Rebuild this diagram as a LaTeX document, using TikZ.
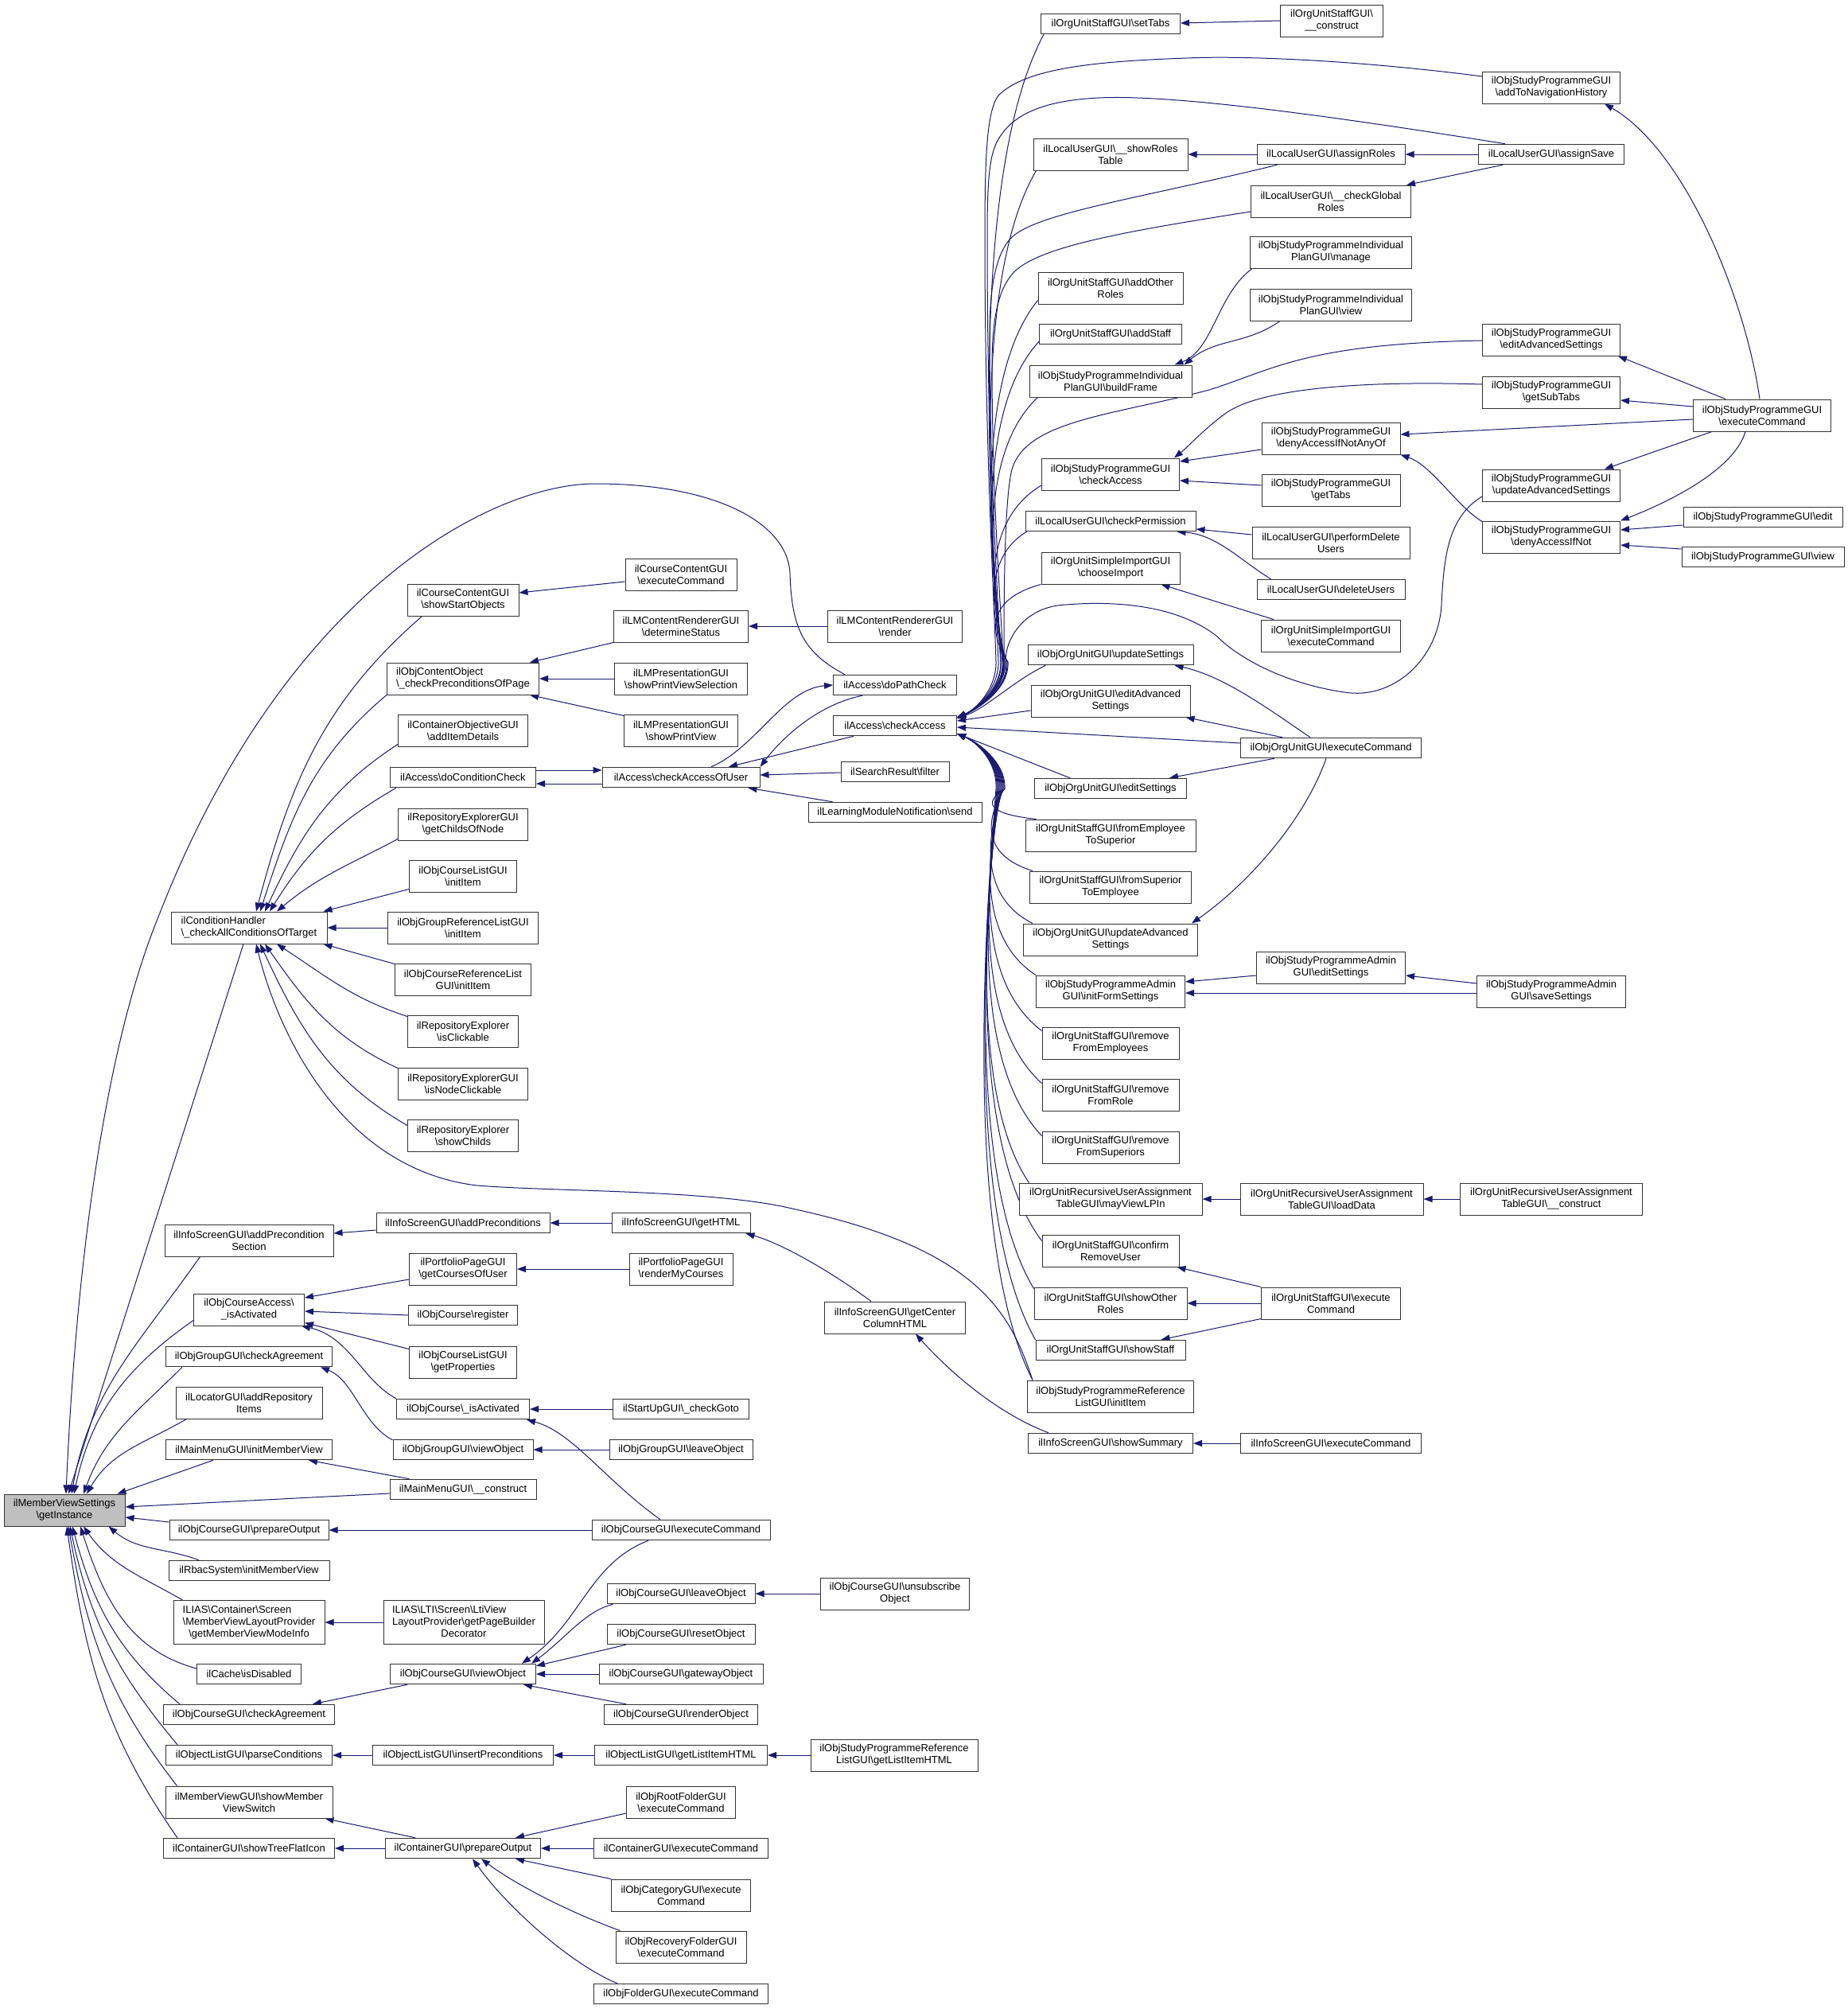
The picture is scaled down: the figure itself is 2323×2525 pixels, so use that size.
\documentclass[tikz,border=0pt]{standalone}
\usepackage{fontspec}
\setmainfont{Liberation Sans}
\usetikzlibrary{arrows.meta,calc}
\definecolor{mnb}{RGB}{25,25,112}
\newcommand\BS{\textbackslash}
\newcommand\mynode[6]{\node[#1,minimum width=#5pt] (#2) at (#3,#4) {#6};}
\pgfdeclarelayer{bg}
\pgfsetlayers{bg,main}
\newcommand\fanU[2]{\draw[edg] let \p1=(#1), \p2=([yshift=10pt]ca.east), \p3=($(\p2)+(#2pt,70pt)$) in (\p1) .. controls ({\x3-30pt},{\y1+0.2*((\y3)-(\y1))}) and ({\x3-22pt},{\y3-0.35*((\y3)-(\y1))}) .. (\p3) .. controls ({\x3+2pt},{\y3-35pt}) and ({\x2+24pt},{\y2+10pt}) .. (\p2);}
\newcommand\fanL[2]{\draw[edg] let \p1=(#1), \p2=([yshift=-10pt]ca.east), \p3=($(\p2)+(#2pt,-70pt)$) in (\p1) .. controls ({\x3-30pt},{\y1+0.2*((\y3)-(\y1))}) and ({\x3-22pt},{\y3-0.35*((\y3)-(\y1))}) .. (\p3) .. controls ({\x3+2pt},{\y3+35pt}) and ({\x2+24pt},{\y2-10pt}) .. (\p2);}
\begin{document}
\begin{tikzpicture}[x=1pt,y=-1pt,
 bx/.style={draw=black!80,line width=1pt,fill=white,align=center,inner xsep=2pt,inner ysep=1pt,font={\fontsize{13}{15}\selectfont}},
 h1/.style={bx,minimum height=25.5pt},
 h2/.style={bx,minimum height=40pt},
 h3/.style={bx,minimum height=55pt},
 edg/.style={draw=mnb,line width=1pt,-{Triangle[length=11pt,width=8pt]}}]
\useasboundingbox (0,0) rectangle (2323,2525);
% ---------- nodes
\mynode{h2,fill=gray!50}{gi}{81}{1898}{152}{ilMemberViewSettings\\\BS getInstance}
\mynode{h2,align=left}{ch}{313}{1166}{196}{ilConditionHandler\\\BS\_checkAllConditionsOfTarget}
\mynode{h2}{apS}{313}{1559}{212}{ilInfoScreenGUI\BS addPrecondition\\Section}
\mynode{h2}{oca}{313}{1646}{139}{ilObjCourseAccess\BS\\\_isActivated}
\mynode{h1}{ggca}{313}{1705}{209}{ilObjGroupGUI\BS checkAgreement}
\mynode{h2}{loc}{313}{1763}{184}{ilLocatorGUI\BS addRepository\\Items}
\mynode{h1}{mmi}{313}{1822}{209}{ilMainMenuGUI\BS initMemberView}
\mynode{h1}{cpo}{313}{1923}{200}{ilObjCourseGUI\BS prepareOutput}
\mynode{h1}{rbac}{313}{1974}{202}{ilRbacSystem\BS initMemberView}
\mynode{h3}{mvl}{313}{2039}{190}{\begin{tabular}{@{}l@{}}ILIAS\BS Container\BS Screen\\\multicolumn{1}{@{}c@{}}{\BS MemberViewLayoutProvider}\\\multicolumn{1}{@{}c@{}}{\BS getMemberViewModeInfo}\end{tabular}}
\mynode{h1}{cache}{313}{2104}{131}{ilCache\BS isDisabled}
\mynode{h1}{cca}{313}{2155}{215}{ilObjCourseGUI\BS checkAgreement}
\mynode{h1}{pc}{313}{2206}{209}{ilObjectListGUI\BS parseConditions}
\mynode{h2}{mvs}{313}{2265}{210}{ilMemberViewGUI\BS showMember\\ViewSwitch}
\mynode{h1}{stf}{313}{2323}{215}{ilContainerGUI\BS showTreeFlatIcon}
% column C
\mynode{h2}{sso}{582}{754}{140}{ilCourseContentGUI\\\BS showStartObjects}
\mynode{h2,align=left}{cpp}{582}{853}{191}{ilObjContentObject\\\BS\_checkPreconditionsOfPage}
\mynode{h2}{aid}{582}{918}{163}{ilContainerObjectiveGUI\\\BS addItemDetails}
\mynode{h1}{dcc}{582}{977}{183}{ilAccess\BS doConditionCheck}
\mynode{h2}{gcn}{582}{1036}{163}{ilRepositoryExplorerGUI\\\BS getChildsOfNode}
\mynode{h2}{cli}{582}{1101}{135}{ilObjCourseListGUI\\\BS initItem}
\mynode{h2}{grli}{582}{1166}{189}{ilObjGroupReferenceListGUI\\\BS initItem}
\mynode{h2}{crli}{582}{1231}{171}{ilObjCourseReferenceList\\GUI\BS initItem}
\mynode{h2}{isc}{582}{1296}{139}{ilRepositoryExplorer\\\BS isClickable}
\mynode{h2}{inc}{582}{1362}{163}{ilRepositoryExplorerGUI\\\BS isNodeClickable}
\mynode{h2}{sch}{582}{1427}{139}{ilRepositoryExplorer\\\BS showChilds}
\mynode{h1}{apr}{582}{1537}{218}{ilInfoScreenGUI\BS addPreconditions}
\mynode{h2}{gcu}{582}{1595}{135}{ilPortfolioPageGUI\\\BS getCoursesOfUser}
\mynode{h1}{reg}{582}{1653}{137}{ilObjCourse\BS register}
\mynode{h2}{gpr}{582}{1712}{135}{ilObjCourseListGUI\\\BS getProperties}
\mynode{h1}{ocia}{582}{1771}{167}{ilObjCourse\BS\_isActivated}
\mynode{h1}{gvo}{582}{1822}{176}{ilObjGroupGUI\BS viewObject}
\mynode{h1}{mmc}{582}{1872}{184}{ilMainMenuGUI\BS\_\_construct}
\mynode{h3}{lti}{583}{2039}{202}{\begin{tabular}{@{}l@{}}ILIAS\BS LTI\BS Screen\BS LtiView\\LayoutProvider\BS getPageBuilder\\\multicolumn{1}{@{}c@{}}{Decorator}\end{tabular}}
\mynode{h1}{cvo}{582}{2104}{183}{ilObjCourseGUI\BS viewObject}
\mynode{h1}{ipc}{582}{2206}{227}{ilObjectListGUI\BS insertPreconditions}
\mynode{h1}{cpo2}{582}{2323}{195}{ilContainerGUI\BS prepareOutput}
% column D
\mynode{h2}{cce}{856}{722}{140}{ilCourseContentGUI\\\BS executeCommand}
\mynode{h2}{lds}{856}{787}{169}{ilLMContentRendererGUI\\\BS determineStatus}
\mynode{h2}{pvs}{856}{853}{167}{ilLMPresentationGUI\\\BS showPrintViewSelection}
\mynode{h2}{spv}{856}{918}{143}{ilLMPresentationGUI\\\BS showPrintView}
\mynode{h1}{cau}{856}{977}{198}{ilAccess\BS checkAccessOfUser}
\mynode{h1}{ghtml}{856}{1537}{174}{ilInfoScreenGUI\BS getHTML}
\mynode{h2}{rmc}{856}{1595}{130}{ilPortfolioPageGUI\\\BS renderMyCourses}
\mynode{h1}{sug}{856}{1771}{171}{ilStartUpGUI\BS\_checkGoto}
\mynode{h1}{glo}{856}{1822}{180}{ilObjGroupGUI\BS leaveObject}
\mynode{h1}{oce}{856}{1923}{224}{ilObjCourseGUI\BS executeCommand}
\mynode{h1}{clo}{856}{2003}{186}{ilObjCourseGUI\BS leaveObject}
\mynode{h1}{cro}{856}{2054}{186}{ilObjCourseGUI\BS resetObject}
\mynode{h1}{cgo}{856}{2104}{206}{ilObjCourseGUI\BS gatewayObject}
\mynode{h1}{cre}{856}{2155}{193}{ilObjCourseGUI\BS renderObject}
\mynode{h1}{glih}{856}{2206}{217}{ilObjectListGUI\BS getListItemHTML}
\mynode{h2}{rfe}{856}{2265}{137}{ilObjRootFolderGUI\\\BS executeCommand}
\mynode{h1}{cge}{856}{2323}{219}{ilContainerGUI\BS executeCommand}
\mynode{h2}{cate}{856}{2382}{175}{ilObjCategoryGUI\BS execute\\Command}
\mynode{h2}{rcf}{856}{2447}{164}{ilObjRecoveryFolderGUI\\\BS executeCommand}
\mynode{h1}{fge}{856}{2506}{219}{ilObjFolderGUI\BS executeCommand}
% column E
\mynode{h2}{lrr}{1125}{787}{169}{ilLMContentRendererGUI\\\BS render}
\mynode{h1}{dpc}{1125}{861}{155}{ilAccess\BS doPathCheck}
\mynode{h1}{ca}{1125}{912}{155}{ilAccess\BS checkAccess}
\mynode{h1}{srf}{1125}{970}{136}{ilSearchResult\BS filter}
\mynode{h1}{lmn}{1125}{1021}{218}{ilLearningModuleNotification\BS send}
\mynode{h2}{gcc}{1125}{1656}{177}{ilInfoScreenGUI\BS getCenter\\ColumnHTML}
\mynode{h2}{cuo}{1125}{2003}{187}{ilObjCourseGUI\BS unsubscribe\\Object}
\mynode{h2}{sgl}{1124}{2206}{210}{ilObjStudyProgrammeReference\\ListGUI\BS getListItemHTML}
% column F
\mynode{h1}{st}{1396}{30}{175}{ilOrgUnitStaffGUI\BS setTabs}
\mynode{h2}{srt}{1396}{194}{194}{ilLocalUserGUI\BS\_\_showRoles\\Table}
\mynode{h2}{aor}{1396}{362}{182}{ilOrgUnitStaffGUI\BS addOther\\Roles}
\mynode{h1}{ast}{1396}{420}{179}{ilOrgUnitStaffGUI\BS addStaff}
\mynode{h2}{bf}{1396}{479}{204}{ilObjStudyProgrammeIndividual\\PlanGUI\BS buildFrame}
\mynode{h2}{spca}{1396}{596}{173}{ilObjStudyProgrammeGUI\\\BS checkAccess}
\mynode{h1}{cp}{1396}{655}{214}{ilLocalUserGUI\BS checkPermission}
\mynode{h2}{ci}{1396}{714}{174}{ilOrgUnitSimpleImportGUI\\\BS chooseImport}
\mynode{h1}{ous}{1396}{823}{208}{ilObjOrgUnitGUI\BS updateSettings}
\mynode{h2}{oue}{1396}{881}{200}{ilObjOrgUnitGUI\BS editAdvanced\\Settings}
\mynode{h1}{oues}{1396}{991}{191}{ilObjOrgUnitGUI\BS editSettings}
\mynode{h2}{fets}{1396}{1050}{214}{ilOrgUnitStaffGUI\BS fromEmployee\\ToSuperior}
\mynode{h2}{fste}{1396}{1115}{203}{ilOrgUnitStaffGUI\BS fromSuperior\\ToEmployee}
\mynode{h2}{ouua}{1396}{1181}{219}{ilObjOrgUnitGUI\BS updateAdvanced\\Settings}
\mynode{h2}{ifs}{1396}{1246}{187}{ilObjStudyProgrammeAdmin\\GUI\BS initFormSettings}
\mynode{h2}{rfe2}{1396}{1311}{172}{ilOrgUnitStaffGUI\BS remove\\FromEmployees}
\mynode{h2}{rfr}{1396}{1376}{172}{ilOrgUnitStaffGUI\BS remove\\FromRole}
\mynode{h2}{rfs}{1396}{1442}{172}{ilOrgUnitStaffGUI\BS remove\\FromSuperiors}
\mynode{h2}{mvlp}{1396}{1507}{230}{ilOrgUnitRecursiveUserAssignment\\TableGUI\BS mayViewLPIn}
\mynode{h2}{cru}{1396}{1572}{172}{ilOrgUnitStaffGUI\BS confirm\\RemoveUser}
\mynode{h2}{sor}{1396}{1638}{192}{ilOrgUnitStaffGUI\BS showOther\\Roles}
\mynode{h1}{ss}{1396}{1697}{188}{ilOrgUnitStaffGUI\BS showStaff}
\mynode{h2}{spri}{1396}{1755}{209}{ilObjStudyProgrammeReference\\ListGUI\BS initItem}
\mynode{h1}{ssum}{1396}{1814}{207}{ilInfoScreenGUI\BS showSummary}
% column G
\mynode{h2}{stc}{1674}{26}{129}{ilOrgUnitStaffGUI\BS\\\_\_construct}
\mynode{h1}{ar}{1673}{194}{186}{ilLocalUserGUI\BS assignRoles}
\mynode{h2}{cgr}{1673}{253}{201}{ilLocalUserGUI\BS\_\_checkGlobal\\Roles}
\mynode{h2}{ipm}{1673}{317}{203}{ilObjStudyProgrammeIndividual\\PlanGUI\BS manage}
\mynode{h2}{ipv}{1673}{383}{203}{ilObjStudyProgrammeIndividual\\PlanGUI\BS view}
\mynode{h2}{dana}{1673}{551}{174}{ilObjStudyProgrammeGUI\\\BS denyAccessIfNotAnyOf}
\mynode{h2}{gt}{1673}{616}{174}{ilObjStudyProgrammeGUI\\\BS getTabs}
\mynode{h2}{pdu}{1673}{682}{198}{ilLocalUserGUI\BS performDelete\\Users}
\mynode{h1}{du}{1673}{741}{186}{ilLocalUserGUI\BS deleteUsers}
\mynode{h2}{sie}{1673}{799}{175}{ilOrgUnitSimpleImportGUI\\\BS executeCommand}
\mynode{h1}{oux}{1673}{940}{227}{ilObjOrgUnitGUI\BS executeCommand}
\mynode{h2}{aes}{1673}{1216}{187}{ilObjStudyProgrammeAdmin\\GUI\BS editSettings}
\mynode{h2}{ld}{1674}{1507}{230}{ilOrgUnitRecursiveUserAssignment\\TableGUI\BS loadData}
\mynode{h2}{ose}{1673}{1638}{175}{ilOrgUnitStaffGUI\BS execute\\Command}
\mynode{h1}{ise}{1673}{1814}{227}{ilInfoScreenGUI\BS executeCommand}
% column H
\mynode{h2}{anh}{1950}{110}{173}{ilObjStudyProgrammeGUI\\\BS addToNavigationHistory}
\mynode{h1}{as}{1950}{194}{183}{ilLocalUserGUI\BS assignSave}
\mynode{h2}{eas}{1950}{427}{173}{ilObjStudyProgrammeGUI\\\BS editAdvancedSettings}
\mynode{h2}{gst}{1950}{493}{173}{ilObjStudyProgrammeGUI\\\BS getSubTabs}
\mynode{h2}{uas}{1950}{610}{173}{ilObjStudyProgrammeGUI\\\BS updateAdvancedSettings}
\mynode{h2}{dan}{1950}{675}{173}{ilObjStudyProgrammeGUI\\\BS denyAccessIfNot}
\mynode{h2}{ss2}{1950}{1246}{187}{ilObjStudyProgrammeAdmin\\GUI\BS saveSettings}
\mynode{h2}{rc}{1950}{1507}{229}{ilOrgUnitRecursiveUserAssignment\\TableGUI\BS\_\_construct}
% column I
\mynode{h2}{spe}{2215}{522}{173}{ilObjStudyProgrammeGUI\\\BS executeCommand}
\mynode{h1}{ed}{2216}{650}{200}{ilObjStudyProgrammeGUI\BS edit}
\mynode{h1}{vw}{2216}{700}{204}{ilObjStudyProgrammeGUI\BS view}
% ---------- edges
\begin{pgfonlayer}{bg}
\fill[white] (0,0) rectangle (2323,2525);
% into getInstance
\draw[edg] ([xshift=-7pt]ch.south) -- ([xshift=5pt]gi.north);
\draw[edg] ([xshift=-63pt]dpc.north) .. controls (1010,820) and (995,790) .. (993,720) .. controls (990,660) and (905,608) .. (748,608) .. controls (620,608) and (360,740) .. (200,1150) .. controls (130,1320) and (95,1600) .. ([xshift=2pt]gi.north);
\draw[edg] ([xshift=45pt]apS.south west) to[out=235,in=80] ([xshift=9pt]gi.north);
\draw[edg] ([yshift=7pt]oca.south west) to[out=215,in=78] ([xshift=12pt]gi.north);
\draw[edg] ([xshift=21pt]ggca.south west) to[out=225,in=70] ([xshift=24pt]gi.north);
\draw[edg] ([xshift=14pt]loc.south west) to[out=210,in=60] ([xshift=28pt]gi.north);
\draw[edg] ([xshift=-45pt]mmi.south) -- ([xshift=-10pt]gi.north east);
\draw[edg] ([yshift=-5pt]mmc.west) -- ([yshift=4pt]gi.east);
\draw[edg] ([yshift=10pt]cpo.west) -- ([yshift=-9pt]gi.east);
\draw[edg] ([xshift=-63pt]rbac.north) to[out=160,in=-40] ([xshift=-21pt]gi.south east);
\draw[edg] ([xshift=12pt]mvl.north west) to[out=150,in=-55] ([xshift=24pt]gi.south);
\draw[edg] ([yshift=7pt]cache.west) to[out=165,in=-72] ([xshift=20pt]gi.south);
\draw[edg] ([xshift=21pt]cca.north west) to[out=140,in=-75] ([xshift=10pt]gi.south);
\draw[edg] ([xshift=15pt]pc.north west) to[out=130,in=-78] ([xshift=7pt]gi.south);
\draw[edg] ([xshift=15pt]mvs.north west) to[out=128,in=-80] ([xshift=5pt]gi.south);
\draw[edg] ([xshift=18pt]stf.north west) to[out=125,in=-82] ([xshift=3pt]gi.south);
% into ConditionHandler
\draw[edg] ([xshift=19pt]sso.south west) to[out=221,in=75] ([xshift=9pt]ch.north);
\draw[edg] (cpp.south west) to[out=220,in=72] ([xshift=14pt]ch.north);
\draw[edg] ([yshift=3pt]aid.south west) to[out=213,in=65] ([xshift=20pt]ch.north);
\draw[edg] ([xshift=8pt]dcc.south west) to[out=210,in=58] ([xshift=26pt]ch.north);
\draw[edg] ([yshift=2pt]gcn.south west) to[out=208,in=40] ([xshift=35pt]ch.north);
\draw[edg] ([yshift=4pt]cli.south west) -- ([xshift=-5pt]ch.north east);
\draw[edg] (grli.west) -- (ch.east);
\draw[edg] ([yshift=-1pt]crli.north west) -- ([xshift=-5pt]ch.south east);
\draw[edg] ([yshift=-2pt]isc.north west) to[out=162,in=-33] ([xshift=35pt]ch.south);
\draw[edg] ([yshift=-1pt]inc.north west) to[out=155,in=-55] ([xshift=20pt]ch.south);
\draw[edg] ([yshift=-8pt]sch.north west) to[out=150,in=-65] ([xshift=14pt]ch.south);
\draw[edg] ([xshift=7pt]spri.north west) .. controls (1270,1650) and (1230,1570) .. (1000,1520) .. controls (900,1495) and (700,1498) .. (600,1490) .. controls (430,1470) and (350,1300) .. ([xshift=9pt]ch.south);
% middle
\draw[edg] ([yshift=-9pt]cce.west) -- ([yshift=9pt]sso.east);
\draw[edg] (lds.south west) -- ([xshift=-12pt]cpp.north east);
\draw[edg] (pvs.west) -- (cpp.east);
\draw[edg] ([yshift=-2pt]spv.north west) -- ([xshift=-12pt]cpp.south east);
\draw[edg] (lrr.west) -- (lds.east);
\draw[edg] ([yshift=9pt]dcc.east) -- ([yshift=9pt]cau.west);
\draw[edg] ([yshift=-8pt]cau.west) -- ([yshift=-8pt]dcc.east);
\draw[edg] ([xshift=38pt]cau.north) .. controls (950,940) and (985,866) .. (dpc.west);
\draw[edg] ([xshift=-41pt]dpc.south) .. controls (1030,885) and (985,925) .. (cau.north east);
\draw[edg] ([xshift=-52pt]ca.south) -- ([xshift=60pt]cau.north);
\draw[edg] ([yshift=-1pt]srf.west) -- ([yshift=3pt]cau.east);
\draw[edg] ([xshift=31pt]lmn.north west) -- ([xshift=-15pt]cau.south east);
% into ilAccess\checkAccess
\fanU{[xshift=4pt]st.south west}{55}
\draw[edg] ([yshift=14pt]anh.west) .. controls (1700,75) and (1560,70) .. (1492,73) .. controls (1380,77) and (1290,85) .. (1255,120) .. controls (1240,140) and (1238,200) .. (1238,300) .. controls (1238,560) and (1250,760) .. (1252,831) .. controls (1253,866) and (1226,892) .. ([yshift=10pt]ca.east);
\draw[edg] ([xshift=34pt]as.north west) .. controls (1700,150) and (1480,118) .. (1381,123) .. controls (1320,126) and (1275,140) .. (1255,175) .. controls (1243,195) and (1241,230) .. (1241,300) .. controls (1241,560) and (1252,760) .. (1255,831) .. controls (1256,866) and (1226,892) .. ([yshift=10pt]ca.east);
\fanU{[xshift=4pt]srt.south west}{57}
\draw[edg] ([xshift=26pt]ar.south west) .. controls (1430,250) and (1300,268) .. (1270,300) .. controls (1252,320) and (1244,360) .. (1244,420) .. controls (1244,600) and (1255,760) .. (1258,831) .. controls (1259,866) and (1226,892) .. ([yshift=10pt]ca.east);
\draw[edg] ([yshift=-13pt]cgr.west) .. controls (1420,290) and (1300,310) .. (1272,345) .. controls (1255,365) and (1247,400) .. (1247,460) .. controls (1247,620) and (1258,760) .. (1261,831) .. controls (1262,866) and (1226,892) .. ([yshift=10pt]ca.east);
\fanU{[yshift=5pt]aor.south west}{58}
\fanU{[yshift=4pt]ast.south west}{59}
\fanU{[xshift=11pt]bf.south west}{60}
\draw[edg] ([yshift=-1pt]eas.west) .. controls (1640,432) and (1600,465) .. (1520,490) .. controls (1400,522) and (1290,528) .. (1272,590) .. controls (1262,630) and (1262,760) .. (1262,831) .. controls (1262,866) and (1226,892) .. ([yshift=10pt]ca.east);
\fanU{[yshift=-14pt]spca.west}{62}
\fanU{[xshift=2pt]cp.south west}{63}
\fanU{ci.south west}{64}
\draw[edg] ([yshift=-14pt]uas.west) .. controls (1820,650) and (1815,700) .. (1812,760) .. controls (1808,830) and (1750,880) .. (1690,870) .. controls (1620,860) and (1560,830) .. (1530,800) .. controls (1480,760) and (1400,755) .. (1340,760) .. controls (1290,762) and (1264,800) .. (1264,831) .. controls (1264,866) and (1226,892) .. ([yshift=10pt]ca.east);
\draw[edg] ([xshift=23pt]ous.south west) .. controls (1275,855) and (1240,890) .. ([yshift=9pt]ca.east);
\draw[edg] ([yshift=-12pt]oue.west) -- ([yshift=6pt]ca.east);
\draw[edg] ([yshift=6pt]oux.west) -- ([yshift=-2pt]ca.east);
\draw[edg] ([xshift=45pt]oues.north west) -- ([yshift=-10pt]ca.east);
\fanL{[xshift=14pt]fets.north west}{60}
\fanL{[xshift=4pt]fste.north west}{59}
\fanL{[xshift=12pt]ouua.north west}{58}
\fanL{ifs.north west}{57}
\fanL{[yshift=-5pt]rfe2.north west}{56}
\fanL{[yshift=-6pt]rfr.north west}{55}
\fanL{[yshift=-6pt]rfs.north west}{54}
\fanL{[xshift=13pt]mvlp.north west}{53}
\fanL{[yshift=-8pt]cru.north west}{52}
\fanL{[yshift=-2pt]sor.north west}{51}
\fanL{ss.north west}{50}
\fanL{[xshift=7pt]spri.north west}{49}
% right part
\draw[edg] (stc.west) -- ([yshift=1pt]st.east);
\draw[edg] (ar.west) -- (srt.east);
\draw[edg] (as.west) -- (ar.east);
\draw[edg] ([xshift=31pt]as.south west) -- ([xshift=-6pt]cgr.north east);
\draw[edg] ([xshift=3pt]ipm.south west) .. controls (1530,370) and (1525,440) .. ([xshift=-22pt]bf.north east);
\draw[edg] ([xshift=-64pt]ipv.south) to[out=215,in=40] ([xshift=-10pt]bf.north east);
\draw[edg] ([yshift=-14pt]dana.west) -- ([yshift=16pt]spca.east);
\draw[edg] ([yshift=6pt]gt.west) -- ([yshift=-8pt]spca.east);
\draw[edg] ([yshift=10pt]gst.west) .. controls (1700,478) and (1580,490) .. (1540,520) .. controls (1515,538) and (1495,560) .. ([xshift=-7pt]spca.north east);
\draw[edg] ([yshift=-5pt]spe.west) -- ([yshift=5pt]dana.east);
\draw[edg] ([yshift=-1pt]dan.north west) .. controls (1830,635) and (1800,585) .. (dana.south east);
\draw[edg] ([yshift=11pt]spe.west) -- ([yshift=-10pt]gst.east);
\draw[edg] ([xshift=41pt]spe.north west) -- ([xshift=-3pt]eas.south east);
\draw[edg] ([xshift=-3pt]spe.north) .. controls (2195,380) and (2120,190) .. ([xshift=-20pt]anh.south east);
\draw[edg] ([xshift=24pt]spe.south west) -- ([xshift=-20pt]uas.north east);
\draw[edg] ([xshift=-21pt]spe.south) .. controls (2180,590) and (2100,630) .. (dan.north east);
\draw[edg] ([yshift=-10pt]ed.west) -- ([yshift=9pt]dan.east);
\draw[edg] ([yshift=10pt]vw.west) -- ([yshift=-10pt]dan.east);
\draw[edg] ([yshift=10pt]pdu.west) -- ([yshift=-10pt]cp.east);
\draw[edg] ([xshift=18pt]du.north west) .. controls (1560,705) and (1530,672) .. ([xshift=-24pt]cp.south east);
\draw[edg] ([xshift=16pt]sie.north west) -- ([xshift=-24pt]ci.south east);
\draw[edg] ([xshift=-26pt]oux.north) .. controls (1600,895) and (1540,850) .. ([xshift=-24pt]ous.south east);
\draw[edg] ([xshift=53pt]oux.north west) -- ([xshift=-6pt]oue.south east);
\draw[edg] ([xshift=43pt]oux.south west) -- ([xshift=-22pt]oues.north east);
\draw[edg] ([xshift=-6pt]oux.south) .. controls (1640,1030) and (1570,1110) .. ([xshift=-8pt]ouua.north east);
\draw[edg] ([yshift=-10pt]aes.west) -- ([yshift=12pt]ifs.east);
\draw[edg] ([yshift=-2pt]ss2.west) -- ([yshift=-2pt]ifs.east);
\draw[edg] ([yshift=10pt]ss2.west) -- ([yshift=-10pt]aes.east);
\draw[edg] (ld.west) -- (mvlp.east);
\draw[edg] (rc.west) -- (ld.east);
\draw[edg] (ose.north west) -- ([xshift=-3pt]cru.south east);
\draw[edg] (ose.west) -- (sor.east);
\draw[edg] ([yshift=1pt]ose.south west) -- ([xshift=-31pt]ss.north east);
\draw[edg] (ise.west) -- (ssum.east);
\draw[edg] ([xshift=26pt]ssum.north west) .. controls (1250,1775) and (1190,1720) .. ([xshift=26pt]gcc.south);
\draw[edg] ([xshift=-30pt]gcc.north) .. controls (1040,1595) and (980,1562) .. ([xshift=-6pt]ghtml.south east);
% lower left part
\draw[edg] (ghtml.west) -- (apr.east);
\draw[edg] ([yshift=-9pt]apr.west) -- ([yshift=9pt]apS.east);
\draw[edg] (rmc.west) -- (gcu.east);
\draw[edg] ([yshift=-13pt]gcu.west) -- ([yshift=15pt]oca.east);
\draw[edg] (reg.west) -- ([yshift=-2pt]oca.east);
\draw[edg] ([yshift=-4pt]gpr.north west) -- ([yshift=4pt]oca.south east);
\draw[edg] (ocia.north west) .. controls (455,1735) and (440,1680) .. ([xshift=-4pt]oca.south east);
\draw[edg] (sug.west) -- (ocia.east);
\draw[edg] ([xshift=-26pt]oce.north) .. controls (760,1860) and (720,1800) .. ([xshift=-4pt]ocia.south east);
\draw[edg] ([yshift=-1pt]gvo.north west) .. controls (455,1790) and (445,1735) .. ([xshift=-15pt]ggca.south east);
\draw[edg] (glo.west) -- (gvo.east);
\draw[edg] ([xshift=25pt]mmc.north west) -- ([xshift=-30pt]mmi.south east);
\draw[edg] (oce.west) -- (cpo.east);
\draw[edg] (lti.west) -- (mvl.east);
\draw[edg] ([xshift=22pt]cvo.south west) -- ([xshift=-28pt]cca.north east);
\draw[edg] ([xshift=-41pt]oce.south) .. controls (740,1965) and (730,2040) .. ([xshift=-18pt]cvo.north east);
\draw[edg] ([xshift=8pt]clo.south west) .. controls (735,2025) and (710,2060) .. ([xshift=-6pt]cvo.north east);
\draw[edg] ([xshift=24pt]cro.south west) -- ([yshift=-3pt]cvo.north east);
\draw[edg] (cgo.west) -- (cvo.east);
\draw[edg] ([xshift=28pt]cre.north west) -- ([xshift=-16pt]cvo.south east);
\draw[edg] (cuo.west) -- (clo.east);
\draw[edg] (ipc.west) -- (pc.east);
\draw[edg] (glih.west) -- (ipc.east);
\draw[edg] (sgl.west) -- (glih.east);
\draw[edg] ([xshift=38pt]cpo2.north west) -- ([xshift=-10pt]mvs.south east);
\draw[edg] (cpo2.west) -- (stf.east);
\draw[edg] ([yshift=-14pt]rfe.west) -- ([xshift=-32pt]cpo2.north east);
\draw[edg] (cge.west) -- (cpo2.east);
\draw[edg] (cate.north west) -- ([xshift=-32pt]cpo2.south east);
\draw[edg] ([xshift=6pt]rcf.north west) .. controls (720,2405) and (650,2370) .. ([xshift=23pt]cpo2.south);
\draw[edg] ([xshift=30pt]fge.north west) .. controls (720,2470) and (640,2400) .. ([xshift=12pt]cpo2.south);
\end{pgfonlayer}
\end{tikzpicture}
\end{document}
